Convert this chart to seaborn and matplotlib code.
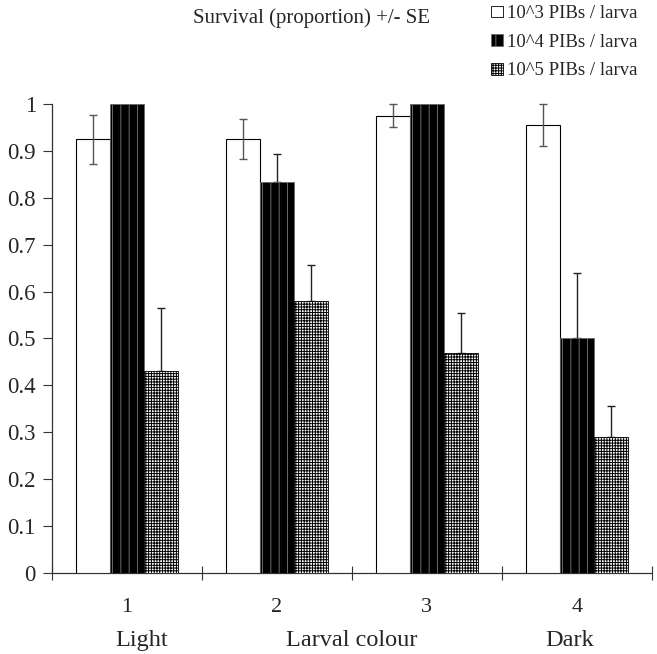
import matplotlib
matplotlib.use("Agg")
import matplotlib.pyplot as plt
from matplotlib.patches import Patch
import seaborn as sns
import pandas as pd

# Survival of larvae by larval colour class and inoculum dose
colour_classes = ["1", "2", "3", "4"]
doses = ["10^3 PIBs / larva", "10^4 PIBs / larva", "10^5 PIBs / larva"]
survival_1e3 = [0.925, 0.925, 0.975, 0.955]
survival_1e4 = [1.0, 0.833, 1.0, 0.50]
survival_1e5 = [0.43, 0.58, 0.47, 0.29]
se_1e3 = [0.052, 0.043, 0.025, 0.045]
se_1e4 = [0.0, 0.060, 0.0, 0.140]
se_1e5 = [0.135, 0.077, 0.085, 0.065]
y_ticks = [0, 0.1, 0.2, 0.3, 0.4, 0.5, 0.6, 0.7, 0.8, 0.9, 1]
y_tick_labels = ["0", "0.1", "0.2", "0.3", "0.4", "0.5", "0.6", "0.7", "0.8", "0.9", "1"]
group_labels = ["Light", "Larval colour", "Dark"]

survival = [survival_1e3, survival_1e4, survival_1e5]
ses = [se_1e3, se_1e4, se_1e5]
df = pd.DataFrame({
    "colour": [c for _ in doses for c in colour_classes],
    "dose": [d for d in doses for _ in colour_classes],
    "survival": [v for series in survival for v in series],
})

sns.set_style("white")
plt.rcParams["font.family"] = ["Liberation Serif", "DejaVu Serif"]
plt.rcParams["hatch.linewidth"] = 0.7

fig = plt.figure(figsize=(6.57, 6.54), dpi=100)
ax = fig.add_axes([0.079, 0.124, 0.913, 0.717])

sns.barplot(data=df, x="colour", y="survival", hue="dose", order=colour_classes,
            hue_order=doses, width=0.68, errorbar=None, legend=False, ax=ax,
            zorder=3)

styles = [
    dict(facecolor="white", edgecolor="black", hatch=None, linewidth=0.8),
    dict(facecolor="black", edgecolor="#6a6a6a", hatch="||", linewidth=0.6),
    dict(facecolor="white", edgecolor="black", hatch="++++++", linewidth=0.6),
]
for container, st in zip(ax.containers, styles):
    for bar in container:
        bar.set_facecolor(st["facecolor"])
        bar.set_edgecolor(st["edgecolor"])
        bar.set_linewidth(st["linewidth"])
        if st["hatch"]:
            bar.set_hatch(st["hatch"])

# Standard-error bars; the lower arm is hidden behind filled bars
for k, (container, se) in enumerate(zip(ax.containers, ses)):
    xs = [b.get_x() + b.get_width() / 2 for b in container]
    ys = [b.get_height() for b in container]
    for x, y, e in zip(xs, ys, se):
        if e <= 0:
            continue
        lower = e if k == 0 else 0
        ax.errorbar([x], [y], yerr=[[lower], [e]], fmt="none",
                    ecolor="#555555" if k == 0 else "#222222",
                    elinewidth=1.0, capsize=3, capthick=1.0,
                    zorder=5 if k == 0 else 2, clip_on=False)

ax.set_xlim(-0.5, 3.5)
ax.set_ylim(0, 1)
ax.set_yticks(y_ticks)
ax.set_yticklabels(y_tick_labels, fontsize=16.5)
ax.tick_params(axis="y", direction="out", length=6.5, width=0.8, color="#333333",
               left=True, pad=5)

# Crossing ticks at category boundaries, numeric labels at category centres
ax.set_xticks([-0.5, 0.5, 1.5, 2.5, 3.5])
ax.set_xticklabels([])
ax.tick_params(axis="x", which="major", direction="inout", length=10,
               width=0.8, color="#333333", bottom=True)
ax.set_xticks(range(len(colour_classes)), minor=True)
ax.set_xticklabels(colour_classes, minor=True, fontsize=16)
ax.tick_params(axis="x", which="minor", length=0, pad=18)
ax.set_xlabel("")
ax.set_ylabel("")

for side in ["top", "right"]:
    ax.spines[side].set_visible(False)
for side in ["left", "bottom"]:
    ax.spines[side].set_color("#333333")
    ax.spines[side].set_linewidth(0.9)

for x, lab in zip([0.1, 1.5, 2.95], group_labels):
    ax.text(x, -0.145, lab, ha="center", va="center", fontsize=17.5,
            transform=ax.get_xaxis_transform())

fig.text(0.474, 0.972, "Survival (proportion) +/- SE", ha="center", va="center",
         fontsize=15)

handles = [Patch(facecolor=st["facecolor"], edgecolor=st["edgecolor"],
                 hatch=st["hatch"], linewidth=0.6) for st in styles]
fig.legend(handles, doses, loc="upper left", bbox_to_anchor=(0.745, 0.995),
           frameon=False, fontsize=13.5, handlelength=0.6, handleheight=0.6,
           handletextpad=0.25, labelspacing=0.62, borderaxespad=0.0,
           borderpad=0.1)

fig.savefig("out.png", dpi=100)
